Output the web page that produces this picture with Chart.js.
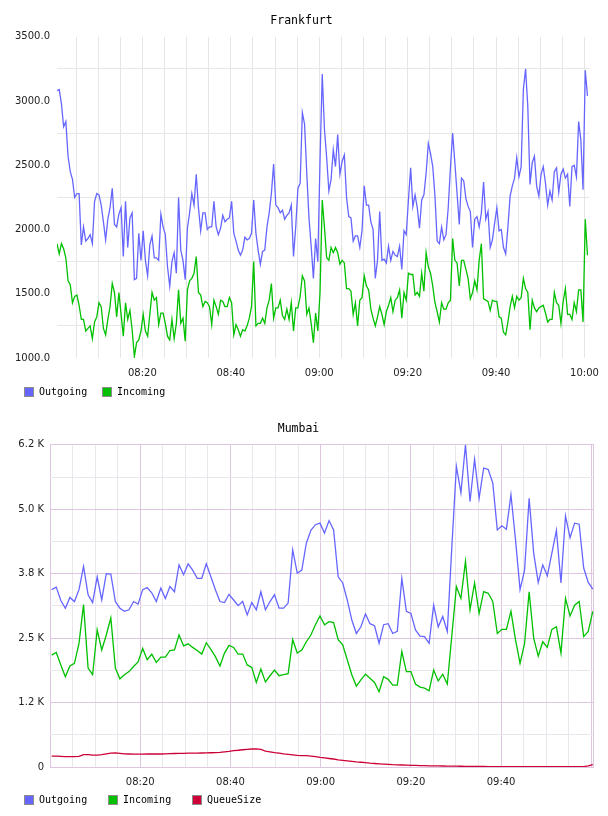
<!DOCTYPE html>
<html>
<head>
<meta charset="utf-8">
<title>Frankfurt / Mumbai</title>
<script src="https://cdn.jsdelivr.net/npm/chart.js@4.4.0/dist/chart.umd.min.js"></script>
<style>
  html, body { margin: 0; padding: 0; background: #fff; }
  .chart-box { position: relative; width: 608px; height: 408px; }
  .legend {
    position: absolute; left: 24px; top: 386px; height: 12px;
    display: flex; font: 10px 'DejaVu Sans Mono', monospace; line-height: 12px; color: #000; white-space: nowrap;
  }
  .legend-item { display: flex; align-items: center; }
  .legend-box { width: 10px; height: 10px; box-sizing: border-box; border: 1px solid #8c8c8c; margin-right: 5px; }
</style>
</head>
<body>
<div class="chart-box"><canvas id="frankfurtChart"></canvas><div class="legend" id="frankfurtLegend"></div></div>
<div class="chart-box"><canvas id="mumbaiChart"></canvas><div class="legend" id="mumbaiLegend"></div></div>
<script>
// Frankfurt: one sample every 30 s, first one at 08:00:40 (minutes after 08:00)
const frankfurtStart = 0.68;
const frankfurtStep = 0.5;

const frankfurtOutgoing = [
  3080, 3090, 2980, 2800, 2840, 2570, 2450, 2390, 2250, 2280,
  2280, 1880, 2020, 1910, 1930, 1960, 1890, 2220, 2280, 2270,
  2190, 2060, 1920, 2080, 2170, 2320, 2040, 2020, 2120, 2170,
  1790, 2220, 1860, 2090, 2130, 1610, 1620, 1970, 1760, 1990,
  1760, 1640, 1880, 1950, 1780, 1780, 1760, 2120, 2020, 1960,
  1710, 1560, 1750, 1820, 1660, 2250, 1840, 1760, 1610, 2010, 2130,
  2280, 2190, 2430, 2170, 1990, 2130, 2130, 2000, 2020, 2020,
  2220, 2020, 1960, 2010, 2110, 2060, 2080, 2090, 2220, 1970,
  1910, 1840, 1800, 1840, 1940, 1920, 1930, 1970, 2230, 1970,
  1840, 1730, 1830, 1840, 2020, 2130, 2280, 2510, 2190, 2170,
  2130, 2150, 2080, 2110, 2130, 2190, 1790, 2020, 2320, 2360,
  2910, 2820, 2440, 2090, 1870, 1620, 1930, 1750, 2540, 3210, 2780,
  2560, 2300, 2390, 2620, 2490, 2740, 2430, 2530, 2580, 2250,
  2100, 2090, 1910, 1950, 1950, 1860, 1990, 2340, 2190, 2190,
  2060, 2000, 1620, 1760, 2140, 1760, 1770, 1740, 1870, 1760,
  1830, 1800, 1790, 1870, 1690, 1990, 1960, 2230, 2480, 2180,
  2270, 2170, 2010, 2230, 2270, 2440, 2670, 2590, 2490, 2260,
  1910, 1890, 2020, 1920, 1960, 2170, 2480, 2750, 2520, 2280,
  2040, 2400, 2380, 2240, 2180, 2140, 1860, 2080, 2100, 2020,
  2130, 2370, 2080, 2140, 1860, 1920, 2050, 2170, 1990, 2000,
  1860, 1810, 2020, 2260, 2340, 2400, 2560, 2410, 2490, 3090,
  3250, 2960, 2350, 2520, 2570, 2340, 2260, 2430, 2490, 2360,
  2190, 2300, 2230, 2450, 2480, 2290, 2430, 2470, 2400, 2430,
  2180, 2490, 2500, 2410, 2840, 2700, 2310, 3240, 3040
];

const frankfurtIncoming = [
  1890, 1810, 1890, 1850, 1780, 1600, 1570, 1430, 1480, 1490,
  1410, 1300, 1300, 1210, 1230, 1250, 1150, 1280, 1320, 1430,
  1400, 1230, 1180, 1300, 1400, 1580, 1510, 1320, 1510, 1340,
  1170, 1430, 1300, 1370, 1220, 1010, 1120, 1140, 1210, 1340,
  1210, 1170, 1340, 1510, 1450, 1470, 1260, 1350, 1350, 1270,
  1170, 1140, 1300, 1150, 1270, 1530, 1270, 1310, 1130, 1530, 1600,
  1620, 1660, 1790, 1510, 1490, 1400, 1440, 1430, 1400, 1260,
  1450, 1400, 1340, 1450, 1440, 1400, 1400, 1470, 1430, 1180,
  1260, 1220, 1170, 1220, 1210, 1250, 1310, 1400, 1750, 1250,
  1270, 1270, 1310, 1270, 1390, 1450, 1580, 1310, 1390, 1390,
  1450, 1330, 1300, 1380, 1300, 1430, 1210, 1390, 1390, 1480,
  1640, 1600, 1340, 1390, 1270, 1120, 1350, 1210, 1510, 2230, 2020,
  1780, 1760, 1860, 1820, 1860, 1820, 1730, 1760, 1740, 1540,
  1540, 1520, 1340, 1430, 1250, 1450, 1470, 1640, 1560, 1530,
  1380, 1310, 1250, 1320, 1400, 1340, 1260, 1360, 1410, 1470,
  1360, 1450, 1470, 1530, 1310, 1510, 1450, 1660, 1650, 1650,
  1490, 1510, 1480, 1660, 1520, 1820, 1710, 1660, 1560, 1430,
  1360, 1280, 1430, 1380, 1380, 1430, 1450, 1930, 1760, 1740,
  1560, 1760, 1760, 1690, 1620, 1460, 1510, 1600, 1530, 1760,
  1890, 1460, 1450, 1440, 1370, 1450, 1440, 1440, 1320, 1310,
  1200, 1180, 1280, 1400, 1480, 1390, 1480, 1450, 1470, 1620,
  1540, 1510, 1220, 1450, 1390, 1360, 1390, 1400, 1410, 1350,
  1280, 1300, 1300, 1510, 1430, 1410, 1270, 1440, 1540, 1340,
  1340, 1300, 1430, 1360, 1530, 1530, 1280, 2080, 1800
];

// minutes after 08:00 -> vertical grid every 5 min, labels every 20 min
const frankfurtXTicks = [5, 10, 15, 20, 25, 30, 35, 40, 45, 50, 55, 60, 65, 70, 75, 80, 85, 90, 95, 100, 105, 110, 115, 120];
const frankfurtYTicks = [1000, 1250, 1500, 1750, 2000, 2250, 2500, 2750, 3000, 3250, 3500];
const frankfurtYLabels = ['1000.0', '', '1500.0', '', '2000.0', '', '2500.0', '', '3000.0', '', '3500.0'];

// Mumbai: roughly one sample per minute
const mumbaiStart = 0.38;
const mumbaiStep = 1.008;

const mumbaiOutgoing = [
  3440, 3490, 3230, 3080, 3290, 3210, 3440, 3890, 3340, 3190,
  3690, 3240, 3750, 3740, 3210, 3080, 3020, 3050, 3210, 3160,
  3440, 3480, 3380, 3210, 3470, 3270, 3500, 3400, 3920, 3730,
  3940, 3820, 3660, 3660, 3940, 3690, 3440, 3210, 3190, 3350,
  3240, 3130, 3210, 2950, 3190, 3050, 3400, 3050, 3210, 3340,
  3080, 3080, 3180, 4210, 3760, 3820,
  4340, 4590, 4700, 4730, 4540, 4780, 4600, 3690, 3570, 3240,
  2850, 2590, 2720, 2970, 2780, 2740, 2400, 2760, 2780, 2590,
  2630, 3660, 3020, 2980, 2660, 2540, 2530, 2400, 3140, 2720,
  2920, 2630, 4270, 5830, 5320, 6250, 5150, 5970, 5210, 5800,
  5770, 5510, 4600, 4680, 4610, 5280, 4410, 3440, 3820, 5210,
  4150, 3580, 3920, 3710, 4150, 4590, 3570, 4870, 4450, 4730,
  4710, 3860, 3580, 3450
];

const mumbaiIncoming = [
  2170, 2220, 1980, 1750, 1960, 2010, 2400, 3150, 1920, 1790,
  2660, 2270, 2560, 2890, 1920, 1710, 1790, 1850, 1950, 2040,
  2300, 2080, 2190, 2030, 2130, 2130, 2260, 2270, 2560, 2350,
  2390, 2320, 2260, 2190, 2410, 2280, 2140, 1960, 2210, 2360,
  2320, 2190, 2190, 1980, 1930, 1640, 1900, 1650, 1770, 1880,
  1770, 1790, 1810, 2470, 2210, 2270,
  2430, 2560, 2760, 2930, 2760, 2820, 2800, 2470, 2370, 2080,
  1790, 1570, 1690, 1800, 1720, 1640, 1460, 1750, 1700, 1590,
  1590, 2240, 1850, 1850, 1610, 1550, 1530, 1480, 1880, 1670,
  1800, 1610, 2550, 3500, 3270, 3990, 3050, 3570, 2980, 3400,
  3370, 3210, 2590, 2670, 2670, 3020, 2470, 2010, 2400, 3400,
  2500, 2150, 2430, 2320, 2670, 2720, 2210, 3270, 2930, 3140,
  3210, 2530, 2630, 3020
];

const mumbaiQueue = [
  210, 210, 205, 200, 200, 200, 205, 240, 240, 232,
  232, 240, 255, 270, 275, 265, 255, 252, 250, 250,
  250, 252, 252, 252, 252, 255, 260, 262, 265, 265,
  268, 270, 270, 272, 274, 276, 278, 285, 295, 305,
  317, 325, 335, 342, 349, 350, 340, 310, 295, 280,
  268, 255, 245, 235, 225, 222, 220, 210, 200, 185,
  175, 165, 155, 140, 130, 120, 110, 100, 92, 84,
  75, 68, 62, 56, 50, 45, 42, 39, 36, 33,
  30, 27, 25, 23, 21, 20, 19, 18, 17, 16,
  15, 14, 13, 12, 11, 10, 9, 8, 8, 7,
  7, 6, 6, 6, 6, 6, 6, 6, 6, 6,
  6, 6, 6, 6, 6, 6, 6, 8, 20, 45
];

const mumbaiXTicks = [0, 5, 10, 15, 20, 25, 30, 35, 40, 45, 50, 55, 60, 65, 70, 75, 80, 85, 90, 95, 100, 105, 110, 115, 120];
const mumbaiYTicks = [0, 625, 1250, 1875, 2500, 3125, 3750, 4375, 5000, 5625, 6250];
const mumbaiYLabels = ['0', '', '1.2 K', '', '2.5 K', '', '3.8 K', '', '5.0 K', '', '6.2 K'];

const outgoingColor = '#6666ff';
const incomingColor = '#00c000';
const queueColor = '#cc0036';

const tickFont = { family: 'DejaVu Sans', size: 10 };

function toPoints(start, step, values) {
  return values.map((v, i) => ({ x: start + i * step, y: v }));
}

// minutes after 08:00 -> "HH:MM", only on the 20 minute marks
function timeLabel(minutes, showEnds) {
  if (minutes % 20 !== 0) return '';
  if (!showEnds && (minutes === 0 || minutes === 120)) return '';
  const h = 8 + Math.floor(minutes / 60);
  const m = minutes % 60;
  return String(h).padStart(2, '0') + ':' + String(m).padStart(2, '0');
}

// html legend, fixed column width like the original
function renderLegend(chart, elId, itemWidth) {
  const el = document.getElementById(elId);
  el.innerHTML = chart.data.datasets.map(ds => `
    <span class="legend-item" style="width:${itemWidth}px">
      <span class="legend-box" style="background:${ds.borderColor}"></span>${ds.label}
    </span>`).join('');
}

function lineDataset(label, color, points) {
  return {
    label: label,
    data: points,
    borderColor: color,
    backgroundColor: color,
    borderWidth: 1.3,
    pointRadius: 0,
    tension: 0,
    fill: false
  };
}

// Frankfurt chart
const frankfurtChart = new Chart(document.getElementById('frankfurtChart'), {
  type: 'line',
  data: {
    datasets: [
      lineDataset('Outgoing', outgoingColor, toPoints(frankfurtStart, frankfurtStep, frankfurtOutgoing)),
      lineDataset('Incoming', incomingColor, toPoints(frankfurtStart, frankfurtStep, frankfurtIncoming))
    ]
  },
  options: {
    responsive: true,
    maintainAspectRatio: false,
    animation: false,
    layout: { padding: { left: 9, right: 14, top: 0, bottom: 28 } },
    plugins: {
      title: {
        display: true,
        text: 'Frankfurt',
        color: '#000',
        font: { family: 'DejaVu Sans Mono', size: 11.5, weight: 'normal' },
        padding: { top: 14, bottom: 9 }
      },
      legend: { display: false },
      tooltip: { enabled: false }
    },
    scales: {
      x: {
        type: 'linear',
        min: frankfurtStart,
        max: 121.05,
        afterBuildTicks: s => { s.ticks = frankfurtXTicks.map(v => ({ value: v })); },
        afterFit: s => { s.height = 22; },
        ticks: { autoSkip: false, maxRotation: 0, padding: 9, color: '#222', font: tickFont, callback: v => timeLabel(v, true) },
        grid: { color: '#e6e6e6', drawTicks: false },
        border: { display: false }
      },
      y: {
        min: 1000,
        max: 3500,
        afterBuildTicks: s => { s.ticks = frankfurtYTicks.map(v => ({ value: v })); },
        afterFit: s => { s.width = 48; },
        ticks: { padding: 7, color: '#222', font: tickFont, callback: (v, i) => frankfurtYLabels[i] },
        grid: {
          drawTicks: false,
          color: c => (c.tick && c.tick.value % 500 === 250) ? '#e6e6e6' : 'rgba(0,0,0,0)'
        },
        border: { display: false }
      }
    }
  }
});
renderLegend(frankfurtChart, 'frankfurtLegend', 78);

// Mumbai chart: pinkish grid, darker on the labelled lines
const majorGrid = '#dec5e0';
const minorGrid = '#ebe5ee';

const rightFrame = {
  id: 'rightFrame',
  beforeDatasetsDraw(chart) {
    const a = chart.chartArea;
    const ctx = chart.ctx;
    ctx.save();
    ctx.strokeStyle = majorGrid;
    ctx.lineWidth = 1;
    ctx.beginPath();
    ctx.moveTo(a.right - 0.5, a.top);
    ctx.lineTo(a.right - 0.5, a.bottom);
    ctx.stroke();
    ctx.restore();
  }
};

const mumbaiChart = new Chart(document.getElementById('mumbaiChart'), {
  type: 'line',
  data: {
    datasets: [
      lineDataset('Outgoing', outgoingColor, toPoints(mumbaiStart, mumbaiStep, mumbaiOutgoing)),
      lineDataset('Incoming', incomingColor, toPoints(mumbaiStart, mumbaiStep, mumbaiIncoming)),
      lineDataset('QueueSize', queueColor, toPoints(mumbaiStart, mumbaiStep, mumbaiQueue))
    ]
  },
  plugins: [rightFrame],
  options: {
    responsive: true,
    maintainAspectRatio: false,
    animation: false,
    layout: { padding: { left: 3, right: 14, top: 0, bottom: 27 } },
    plugins: {
      title: {
        display: true,
        text: 'Mumbai',
        color: '#000',
        font: { family: 'DejaVu Sans Mono', size: 11.5, weight: 'normal' },
        padding: { top: 14, bottom: 9 }
      },
      legend: { display: false },
      tooltip: { enabled: false }
    },
    scales: {
      x: {
        type: 'linear',
        min: 0,
        max: 120.6,
        afterBuildTicks: s => { s.ticks = mumbaiXTicks.map(v => ({ value: v })); },
        afterFit: s => { s.height = 22; },
        ticks: { autoSkip: false, maxRotation: 0, padding: 9, color: '#222', font: tickFont, callback: v => timeLabel(v, false) },
        grid: {
          drawTicks: false,
          color: c => (c.tick && c.tick.value % 20 === 0) ? majorGrid : minorGrid
        },
        border: { display: false }
      },
      y: {
        min: 0,
        max: 6250,
        afterBuildTicks: s => { s.ticks = mumbaiYTicks.map(v => ({ value: v })); },
        afterFit: s => { s.width = 47; },
        ticks: { padding: 6, color: '#222', font: tickFont, callback: (v, i) => mumbaiYLabels[i] },
        grid: {
          drawTicks: false,
          color: c => (c.tick && c.tick.value % 1250 === 0) ? majorGrid : minorGrid
        },
        border: { display: false }
      }
    }
  }
});
renderLegend(mumbaiChart, 'mumbaiLegend', 84);
</script>
</body>
</html>
